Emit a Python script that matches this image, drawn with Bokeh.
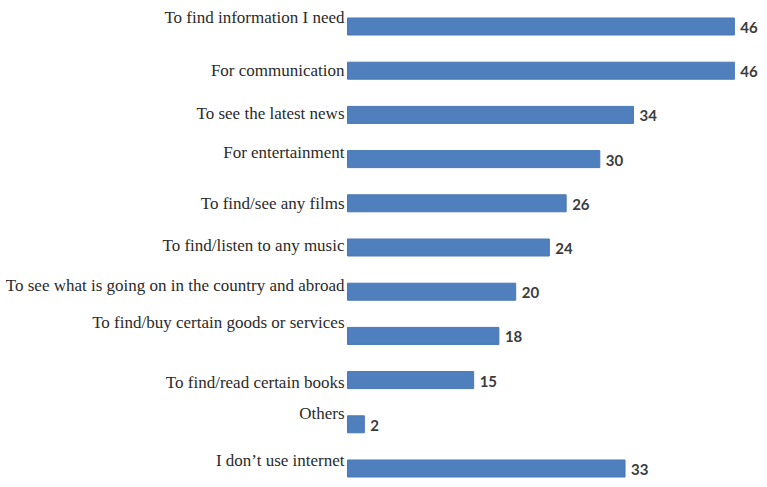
from bokeh.plotting import figure
from bokeh.models import Range1d, ColumnDataSource
from bokeh.core.properties import value
from bokeh.embed import file_html
from bokeh.resources import INLINE

categories = [
    "To find information I need",
    "For communication",
    "To see the latest news",
    "For entertainment",
    "To find/see any films",
    "To find/listen to any music",
    "To see what is going on in the country and abroad",
    "To find/buy certain goods or services",
    "To find/read certain books",
    "Others",
    "I don\u2019t use internet",
]
values = [46, 46, 34, 30, 26, 24, 20, 18, 15, 2, 33]

# vertical pixel offsets of the category labels relative to the bar centre (layout only)
label_dy = [-9, 0, -1, -7, 0, -2, -6, -13, 2, -11, -8]

idx = list(range(len(categories)))
src = ColumnDataSource(dict(
    y=idx,
    v=values,
    cat=categories,
    txt=[str(v) for v in values],
    dy=label_dy,
    zero=[0] * len(values),
))

px_per_unit = 8.41
W, H = 759, 479
x_start = -347 / px_per_unit
x_end = x_start + W / px_per_unit
row = 44.2
y_top = -26 / row
y_bot = y_top + H / row

p = figure(width=W, height=H, output_backend="svg", toolbar_location=None,
           x_range=Range1d(x_start, x_end), y_range=Range1d(y_bot, y_top),
           min_border=0, outline_line_color=None)
p.xaxis.visible = False
p.yaxis.visible = False
p.grid.visible = False
p.background_fill_color = "white"
p.border_fill_color = "white"

p.hbar(y="y", left=0, right="v", height=0.385, source=src,
       fill_color="#4f7fbd", line_color="#4a78b5", line_width=1)

p.text(x="zero", y="y", text="cat", source=src, x_offset=-3, y_offset="dy",
       text_align="right", text_baseline="middle",
       text_font=value("Liberation Serif"), text_font_size="17px",
       text_color="#2a2a2a")

p.text(x="v", y="y", text="txt", source=src, x_offset=6, y_offset=1,
       text_align="left", text_baseline="middle",
       text_font=value("Lato"), text_font_size="15px",
       text_font_style="bold", text_color="#3c3c3c")

open("out.html", "w").write(file_html(p, INLINE))
